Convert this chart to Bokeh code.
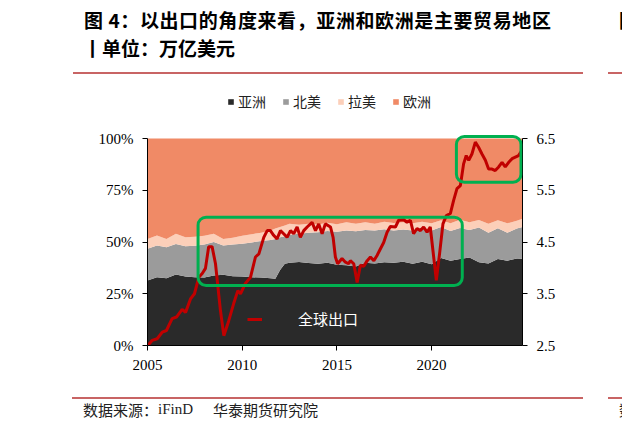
from bokeh.plotting import figure
from bokeh.models import (Range1d, LinearAxis, FixedTicker, Legend, LegendItem,
                          BoxAnnotation, PrintfTickFormatter, ColumnDataSource, Div)
from bokeh.layouts import column
from bokeh.embed import file_html
from bokeh.resources import INLINE

# ---------------- data ----------------
share_dates = [2005.0, 2005.5, 2006.0, 2006.5, 2007.0, 2007.5, 2008.0, 2008.5, 2009.0, 2009.5,
               2010.0, 2010.5, 2011.0, 2011.5, 2011.75, 2012.0, 2012.25, 2012.5, 2013.0, 2013.5,
               2014.0, 2014.5, 2015.0, 2015.5, 2016.0, 2016.5, 2017.0, 2017.5, 2018.0, 2018.5,
               2019.0, 2019.5, 2020.0, 2020.5, 2021.0, 2021.5, 2022.0, 2022.5, 2023.0, 2023.5,
               2024.0, 2024.5, 2024.8]
asia = [31.4, 33.0, 32.5, 34.3, 33.3, 33.0, 32.8, 33.8, 34.2, 33.5,
        33.3, 33.0, 32.8, 32.5, 32.2, 36.5, 39.5, 40.0, 40.3, 39.8,
        39.5, 40.0, 39.0, 38.8, 38.2, 40.0, 39.6, 40.2, 40.0, 40.4,
        39.5, 40.5, 39.2, 42.3, 41.0, 41.8, 42.5, 40.2, 39.6, 41.8,
        41.0, 42.0, 41.9]
north_america = [15.3, 15.3, 15.0, 14.7, 14.7, 15.2, 16.0, 16.2, 14.1, 15.3,
                 15.9, 16.8, 17.7, 18.5, 19.3, 15.8, 13.3, 13.5, 13.7, 14.7,
                 15.2, 15.3, 16.0, 16.8, 17.0, 15.8, 15.9, 16.0, 15.6, 15.6,
                 16.0, 16.5, 16.3, 14.9, 14.3, 15.0, 13.3, 16.8, 14.9, 14.8,
                 13.5, 14.5, 15.3]
latin_america = [4.8, 4.8, 4.0, 5.0, 4.3, 4.3, 4.2, 4.0, 3.2, 3.2,
                 3.8, 4.0, 4.0, 4.6, 5.0, 4.9, 5.2, 5.3, 4.3, 4.3,
                 3.8, 4.0, 3.6, 4.0, 3.6, 3.8, 3.3, 3.6, 3.6, 3.6,
                 3.5, 2.8, 3.5, 3.3, 3.7, 3.9, 3.8, 3.6, 4.3, 3.9,
                 4.5, 3.8, 4.0]
europe = [100 - a - n - l for a, n, l in zip(asia, north_america, latin_america)]

export_dates = [2005.02, 2005.25, 2005.51, 2005.78, 2006.00, 2006.30, 2006.53, 2006.83, 2007.01, 2007.27,
                2007.48, 2007.71, 2007.89, 2008.06, 2008.23, 2008.41, 2008.59, 2008.85, 2009.03, 2009.29,
                2009.55, 2009.77, 2009.91, 2010.17, 2010.44, 2010.70, 2010.88, 2011.14, 2011.32, 2011.49,
                2011.66, 2011.84, 2012.02, 2012.19, 2012.37, 2012.55, 2012.72, 2012.90, 2013.07, 2013.25,
                2013.43, 2013.69, 2013.87, 2014.04, 2014.22, 2014.39, 2014.66, 2014.80, 2014.92, 2015.04,
                2015.27, 2015.45, 2015.62, 2015.71, 2015.89, 2016.07, 2016.24, 2016.42, 2016.60, 2016.77,
                2016.95, 2017.12, 2017.30, 2017.47, 2017.65, 2017.82, 2018.09, 2018.26, 2018.53, 2018.70,
                2018.88, 2019.05, 2019.23, 2019.41, 2019.58, 2019.76, 2019.93, 2020.07, 2020.25, 2020.42,
                2020.60, 2020.78, 2020.99, 2021.16, 2021.34, 2021.52, 2021.69, 2021.83, 2021.96, 2022.13,
                2022.31, 2022.48, 2022.66, 2022.84, 2023.01, 2023.19, 2023.36, 2023.54, 2023.72, 2023.89,
                2024.07, 2024.25, 2024.42, 2024.59, 2024.77]
export_values = [2.50, 2.60, 2.63, 2.76, 2.79, 3.02, 3.05, 3.20, 3.14, 3.40,
                 3.50, 3.82, 3.89, 3.99, 4.41, 4.41, 4.08, 3.18, 2.69, 2.98,
                 3.31, 3.56, 3.50, 3.70, 3.82, 4.21, 4.27, 4.59, 4.72, 4.72,
                 4.63, 4.56, 4.72, 4.66, 4.59, 4.72, 4.66, 4.79, 4.59, 4.72,
                 4.79, 4.88, 4.72, 4.85, 4.66, 4.85, 4.79, 4.59, 4.21, 4.08,
                 4.18, 4.11, 4.08, 4.14, 4.08, 3.72, 4.05, 4.03, 4.14, 4.21,
                 4.14, 4.24, 4.37, 4.49, 4.69, 4.80, 4.79, 4.92, 4.93, 4.88,
                 4.92, 4.66, 4.76, 4.72, 4.79, 4.69, 4.79, 4.34, 3.76, 4.27,
                 4.85, 5.01, 5.05, 5.30, 5.53, 5.59, 6.01, 6.17, 6.08, 6.20,
                 6.43, 6.33, 6.20, 6.08, 5.91, 5.91, 5.88, 5.95, 6.04, 5.95,
                 6.04, 6.11, 6.14, 6.17, 6.27]

region_labels = ["亚洲", "北美", "拉美", "欧洲"]
line_label = "全球出口"
region_colors = ["#2A2A2A", "#9B9B9B", "#FCCFB9", "#F08A66"]
pct_ticks = [0, 25, 50, 75, 100]
val_ticks = [2.5, 3.5, 4.5, 5.5, 6.5]
year_ticks = [2005, 2010, 2015, 2020]

TITLE_1 = "图 4：以出口的角度来看，亚洲和欧洲是主要贸易地区"
TITLE_2 = "丨单位：万亿美元"
SOURCE_1 = "数据来源："
SOURCE_2 = "iFinD"
SOURCE_3 = "华泰期货研究院"

# ---------------- geometry ----------------
SERIF = "Liberation Serif"
CJK = "Noto Sans CJK SC"
W = 622
HEAD_H, FIG_H, FOOT_H = 80, 310, 39
FRAME_TOP_PAD = 5          # frame starts 5px below figure top (page y=85)
PLOT_TOP, PLOT_BOTTOM = 138, 345   # page y of 100% and 0%
FRAME_TOP = HEAD_H + FRAME_TOP_PAD
extra_px = PLOT_TOP - FRAME_TOP
y_end = 100 + extra_px * 100 / (PLOT_BOTTOM - PLOT_TOP)
val_end = 6.5 + extra_px * 4 / (PLOT_BOTTOM - PLOT_TOP)

p = figure(width=W, height=FIG_H, x_range=Range1d(2005, 2024.8), y_range=Range1d(0, y_end),
           output_backend="svg", toolbar_location=None,
           min_border_left=147, min_border_right=100, min_border_top=FRAME_TOP_PAD,
           min_border_bottom=HEAD_H + FIG_H - PLOT_BOTTOM)
p.extra_y_ranges = {"val": Range1d(2.5, val_end)}
p.outline_line_color = None
p.xgrid.visible = False
p.ygrid.visible = False
p.background_fill_color = "white"
p.border_fill_color = "white"

src = ColumnDataSource(dict(date=share_dates, asia=asia, na=north_america,
                            la=latin_america, eu=europe))
areas = p.varea_stack(["asia", "na", "la", "eu"], x="date", color=region_colors, source=src)

line = p.line(export_dates, export_values, y_range_name="val", color="#C00000", line_width=3)

# axes
right_axis = LinearAxis(y_range_name="val")
p.add_layout(right_axis, "right")

for ax in [p.xaxis[0], p.yaxis[0], right_axis]:
    ax.axis_line_color = "black"
    ax.axis_line_width = 1
    ax.major_tick_line_color = "black"
    ax.major_tick_out = 5
    ax.major_tick_in = 0
    ax.minor_tick_line_color = None
    ax.major_label_text_font = SERIF
    ax.major_label_text_font_size = "15px"
    ax.major_label_text_color = "black"

p.xaxis[0].ticker = FixedTicker(ticks=year_ticks)
p.xaxis[0].formatter = PrintfTickFormatter(format="%d")
p.xaxis[0].major_label_standoff = 9
p.yaxis[0].ticker = FixedTicker(ticks=pct_ticks)
p.yaxis[0].formatter = PrintfTickFormatter(format="%d%%")
p.yaxis[0].major_label_standoff = 9
p.yaxis[0].bounds = (0, 100)
right_axis.ticker = FixedTicker(ticks=val_ticks)
right_axis.formatter = PrintfTickFormatter(format="%.1f")
right_axis.major_label_standoff = 9
right_axis.bounds = (2.5, 6.5)

# legends
top_legend = Legend(items=[LegendItem(label=lab, renderers=[r]) for lab, r in zip(region_labels, areas)],
                    orientation="horizontal", location=(80, 234), padding=0, margin=0,
                    border_line_color=None, background_fill_alpha=0,
                    glyph_width=7, glyph_height=7, label_standoff=4, spacing=16,
                    label_text_font=CJK, label_text_font_size="14px", label_text_color="#222222",
                    label_height=20)
p.add_layout(top_legend, "center")

line_legend = Legend(items=[LegendItem(label=line_label, renderers=[line])],
                     location=(100, 16), padding=0, margin=0,
                     border_line_color=None, background_fill_alpha=0,
                     glyph_width=15, glyph_height=16, label_standoff=36,
                     label_text_font=CJK, label_text_font_size="15px", label_text_color="white",
                     label_height=16)
p.add_layout(line_legend, "center")

# highlight boxes
GREEN = "#00B050"
for l, r, b, t in [(2007.67, 2021.62, 29.0, 62.0), (2021.31, 2024.72, 78.9, 101.0)]:
    p.add_layout(BoxAnnotation(left=l, right=r, bottom=b, top=t, fill_alpha=0,
                               line_color=GREEN, line_alpha=1, line_width=3, border_radius=8))

# ---------------- header / footer ----------------
RULE = "#C86464"

def txt(left, top, text, size, font=CJK, weight="normal", color="#000", extra=""):
    return (f'<div style="position:absolute;left:{left}px;top:{top}px;font-family:\'{font}\';'
            f'font-size:{size}px;line-height:{size}px;font-weight:{weight};color:{color};'
            f'white-space:nowrap;{extra}">{text}</div>')

def rule(left, top, width):
    return (f'<div style="position:absolute;left:{left}px;top:{top}px;width:{width}px;'
            f'height:2px;background:{RULE};"></div>')

header_html = (f'<div style="position:relative;width:{W}px;height:{HEAD_H}px;overflow:hidden;">'
               + txt(84, 10, TITLE_1, 19, weight="bold", extra="letter-spacing:0.6px;")
               + txt(83, 38, TITLE_2, 19, weight="bold")
               + txt(619, 10, "图", 19, weight="bold")
               + rule(72.7, 72.3, 510.6) + rule(607.7, 72.3, 20)
               + '</div>')
footer_html = (f'<div style="position:relative;width:{W}px;height:{FOOT_H}px;overflow:hidden;">'
               + rule(71.7, 7.3, 511.6) + rule(607.7, 7.3, 20)
               + txt(83, 12, SOURCE_1, 15, color="#222")
               + txt(158, 12, SOURCE_2, 15, font=SERIF, color="#222")
               + txt(213, 12, SOURCE_3, 15, color="#222")
               + txt(619, 12, "数", 15, color="#222")
               + '</div>')

header = Div(text=header_html, width=W, height=HEAD_H, margin=0)
footer = Div(text=footer_html, width=W, height=FOOT_H, margin=0)

layout = column(header, p, footer, spacing=0, margin=0)
open("out.html", "w").write(file_html(layout, INLINE))
